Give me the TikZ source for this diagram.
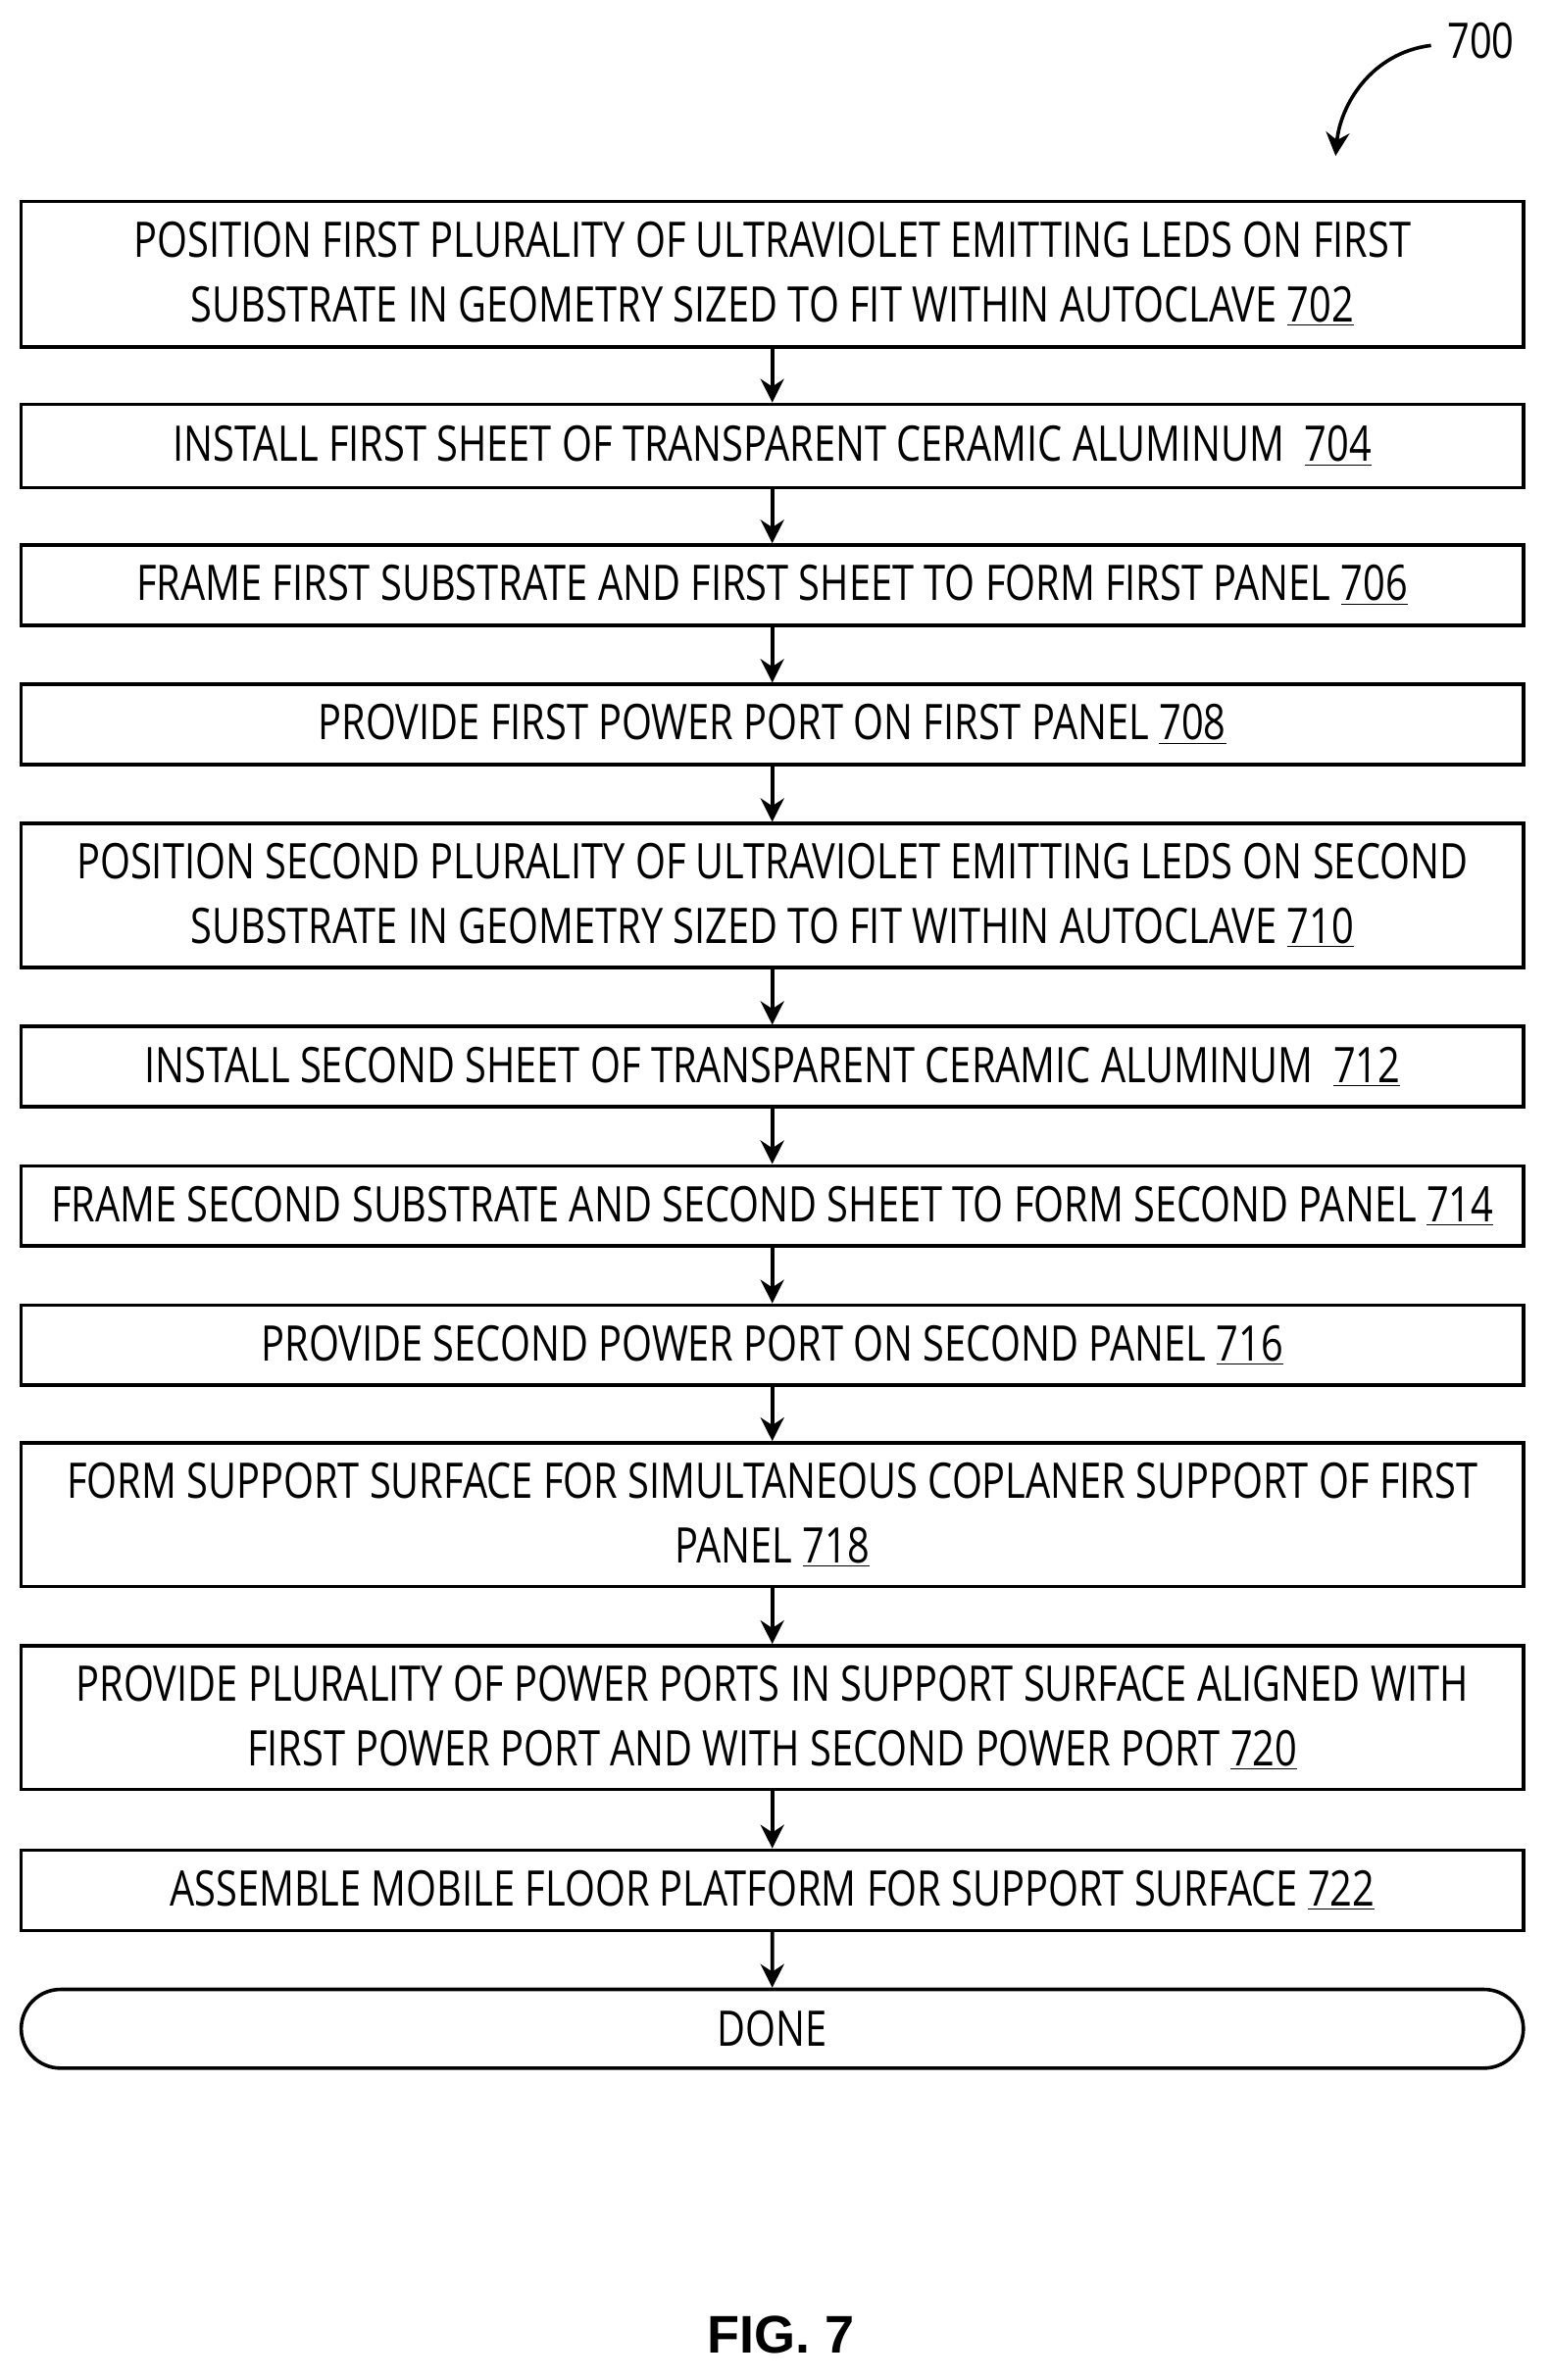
\documentclass[tikz,border=0pt]{standalone}
\usepackage{fontspec}
\setmainfont{Open Sans}[FakeStretch=0.795]
\newfontfamily\figfont{Liberation Sans}
\usetikzlibrary{arrows.meta,shapes.misc}
\begin{document}
\begin{tikzpicture}[x=0.772pt,y=-0.772pt,
 box/.style={draw,line width=1.8pt,minimum width=992*0.772pt,align=center,inner sep=0pt,font=\fontsize{25}{33}\selectfont},
 arr/.style={line width=1.8pt,-{Stealth[length=12pt,width=12pt]}}]
\useasboundingbox (0,0) rectangle (1024,1572);
\def\B#1#2#3#4{\node[box,minimum height={(#3-#2)*0.772pt}] (#1) at (510,{(#2+#3)/2+2}) {#4};}
\B{a}{131}{227}{POSITION FIRST PLURALITY OF ULTRAVIOLET EMITTING LEDS ON FIRST\\SUBSTRATE IN GEOMETRY SIZED TO FIT WITHIN AUTOCLAVE \underline{702}}
\B{b}{265}{320}{INSTALL FIRST SHEET OF TRANSPARENT CERAMIC ALUMINUM\ \ \underline{704}}
\B{c}{358}{411}{FRAME FIRST SUBSTRATE AND FIRST SHEET TO FORM FIRST PANEL \underline{706}}
\B{d}{450}{503}{PROVIDE FIRST POWER PORT ON FIRST PANEL \underline{708}}
\B{e}{542}{637}{POSITION SECOND PLURALITY OF ULTRAVIOLET EMITTING LEDS ON SECOND\\SUBSTRATE IN GEOMETRY SIZED TO FIT WITHIN AUTOCLAVE \underline{710}}
\B{f}{676}{729}{INSTALL SECOND SHEET OF TRANSPARENT CERAMIC ALUMINUM\ \ \underline{712}}
\B{g}{768}{821}{FRAME SECOND SUBSTRATE AND SECOND SHEET TO FORM SECOND PANEL \underline{714}}
\B{h}{860}{913}{PROVIDE SECOND POWER PORT ON SECOND PANEL \underline{716}}
\B{i}{951}{1046}{FORM SUPPORT SURFACE FOR SIMULTANEOUS COPLANER SUPPORT OF FIRST\\PANEL \underline{718}}
\B{j}{1085}{1180}{PROVIDE PLURALITY OF POWER PORTS IN SUPPORT SURFACE ALIGNED WITH\\FIRST POWER PORT AND WITH SECOND POWER PORT \underline{720}}
\B{k}{1220}{1273}{ASSEMBLE MOBILE FLOOR PLATFORM FOR SUPPORT SURFACE \underline{722}}
\node[box,rounded rectangle,minimum height={52*0.772pt}] (l) at (510,1340) {DONE};
\foreach \p/\q in {a/b,b/c,c/d,d/e,e/f,f/g,g/h,h/i,i/j,j/k,k/l} \draw[arr] (\p) -- (\q);
\node[font=\fontsize{25}{30}\selectfont] (n700) at (978,27) {700};
\coordinate (t700) at (882,103);
\draw[arr] (945,30) .. controls (905,35) and (885,70) .. (t700);
\node[font=\figfont\bfseries\fontsize{27}{30}\selectfont] (fig) at (516,1542) {FIG. 7};
\end{tikzpicture}
\end{document}
